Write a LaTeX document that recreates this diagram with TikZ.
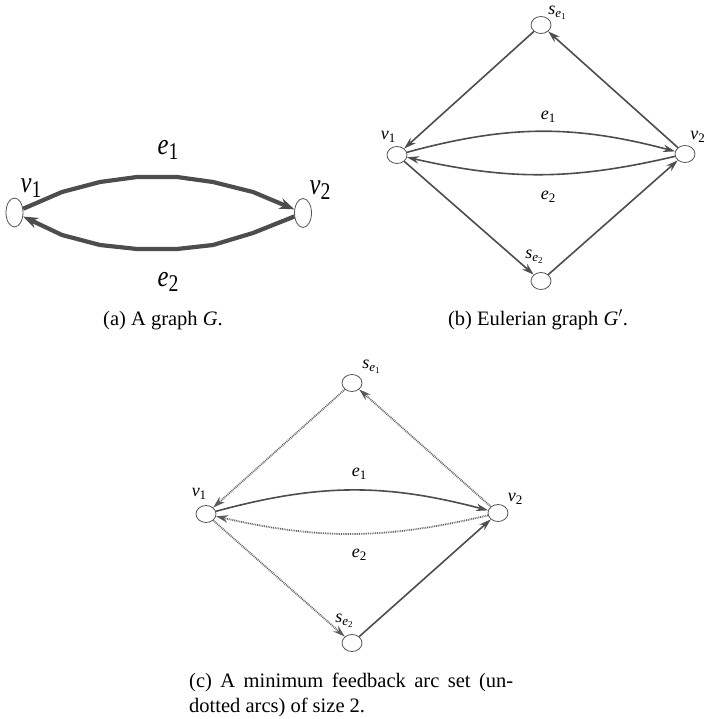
\documentclass[tikz,border=0pt]{standalone}
\usepackage{fontspec}
\setmainfont{Liberation Serif}
\usepackage{graphicx}
\usetikzlibrary{shapes.geometric,arrows.meta}
\definecolor{edgec}{HTML}{4D4D4D}
\definecolor{nodec}{HTML}{555555}
\definecolor{dotc}{HTML}{666666}
\definecolor{dottip}{HTML}{5A5A5A}
\newcommand{\labA}[2]{\scalebox{0.82}[1]{\fontsize{30}{30}\selectfont\textit{#1}\raisebox{-5pt}{\fontsize{24}{24}\selectfont #2}}}
\newcommand{\labB}[2]{{\fontsize{18}{18}\selectfont\textit{#1}\raisebox{-3.5pt}{\fontsize{13}{13}\selectfont #2}}}
\newcommand{\labS}[1]{{\fontsize{18}{18}\selectfont\textit{s}\raisebox{-3.5pt}{\fontsize{13}{13}\selectfont\textit{e}\raisebox{-2pt}{\fontsize{9}{9}\selectfont #1}}}}
\begin{document}
\begin{tikzpicture}[x=1pt,y=-1pt,
  vbig/.style={ellipse, draw=nodec, line width=0.8pt, minimum width=17pt, minimum height=29pt, inner sep=0pt},
  vsmall/.style={ellipse, draw=nodec, line width=0.8pt, minimum width=20pt, minimum height=17pt, inner sep=0pt},
  thickarc/.style={draw=edgec, line width=4.2pt, line join=round, -{Stealth[length=15pt,width=11pt]}},
  arcx/.style={draw=edgec, line width=1.6pt, -{Stealth[length=12pt,width=7.5pt]}},
  dotarc/.style={draw=dotc, line width=1.8pt, dash pattern=on 0.9pt off 0.9pt, -{Stealth[length=12pt,width=7.5pt,color=dottip]}},
  lab/.style={inner sep=0pt, anchor=center},
  captext/.style={inner sep=0pt, font=\fontsize{20.5}{25}\selectfont}]
\useasboundingbox (0,0) rectangle (706,719);

% ---------- (a) ----------
\node[vbig] (va1) at (14.5,212.5) {};
\node[vbig] (va2) at (303,213) {};
\draw[thickarc] (va1) -- (62,192) -- (100,182) -- (137,177) -- (177,177) -- (213,182) -- (253,192) -- (va2);
\draw[thickarc] (va2) -- (253,233) -- (213,245) -- (177,249) -- (137,249) -- (100,245) -- (62,235) -- (va1);
\node[lab] (la1) at (31,188) {\labA{v}{1}};
\node[lab] (la2) at (320,190) {\labA{v}{2}};
\node[lab] (lae1) at (168,150) {\labA{e}{1}};
\node[lab] (lae2) at (168,282) {\labA{e}{2}};
\node[captext, anchor=base] (capa) at (163,325) {(a) A graph \textit{G}.};

% ---------- (b) ----------
\node[vsmall] (vb1) at (397,155) {};
\node[vsmall] (vb2) at (685,154) {};
\node[vsmall] (sb1) at (541,25) {};
\node[vsmall] (sb2) at (541,281) {};
\draw[arcx] (sb1) -- (vb1);
\draw[arcx] (vb2) -- (sb1);
\draw[arcx] (vb1) -- (sb2);
\draw[arcx] (sb2) -- (vb2);
\draw[arcx] (vb1) to[bend left=15] (vb2);
\draw[arcx] (vb2) to[bend left=13] (vb1);
\node[lab] (lb1) at (388,137) {\labB{v}{1}};
\node[lab] (lb2) at (697.5,137) {\labB{v}{2}};
\node[lab] (lbs1) at (557,13) {\labS{1}};
\node[lab] (lbs2) at (534,257) {\labS{2}};
\node[lab] (lbe1) at (548,117) {\labB{e}{1}};
\node[lab] (lbe2) at (548,197) {\labB{e}{2}};
\node[captext, anchor=base] (capb) at (538,325) {(b) Eulerian graph \textit{G}$'$.};

% ---------- (c) ----------
\node[vsmall] (vc1) at (206,514) {};
\node[vsmall] (vc2) at (498,513) {};
\node[vsmall] (sc1) at (352,383) {};
\node[vsmall] (sc2) at (352,643) {};
\draw[dotarc] (sc1) -- (vc1);
\draw[dotarc] (vc2) -- (sc1);
\draw[arcx] (vc1) to[bend left=15] (vc2);
\draw[dotarc] (vc2) to[bend left=13] (vc1);
\draw[dotarc] (vc1) -- (sc2);
\draw[arcx] (sc2) -- (vc2);
\node[lab] (lc1) at (199,494) {\labB{v}{1}};
\node[lab] (lc2) at (515,499) {\labB{v}{2}};
\node[lab] (lcs1) at (371,367) {\labS{1}};
\node[lab] (lcs2) at (344,621) {\labS{2}};
\node[lab] (lce1) at (359,474) {\labB{e}{1}};
\node[lab] (lce2) at (359,555) {\labB{e}{2}};
\node[captext, anchor=base west] (capc1) at (189,687) {\makebox[324pt][s]{(c) A minimum feedback arc set (un-}};
\node[captext, anchor=base west] (capc2) at (189,712) {dotted arcs) of size 2.};
\end{tikzpicture}
\end{document}
